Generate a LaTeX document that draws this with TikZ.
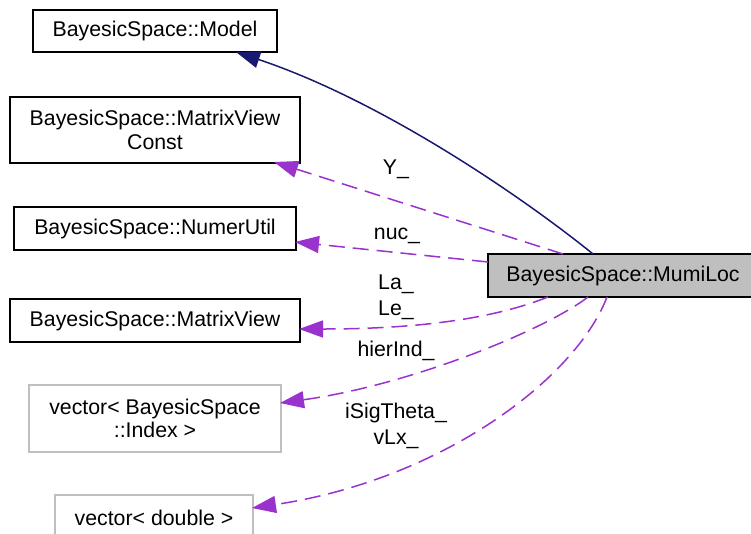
\documentclass[tikz,border=0pt]{standalone}
\usepackage{fontspec}
\setmainfont{Liberation Sans}
\usetikzlibrary{arrows.meta}
\definecolor{edgepurple}{HTML}{9A32CD}
\definecolor{edgenavy}{HTML}{191970}
\definecolor{boxgray}{HTML}{BFBFBF}
\tikzset{
  cls/.style={draw=black, line width=1.5pt, fill=white, inner sep=0pt, align=center,
    font=\fontsize{21.3}{23.5}\selectfont},
  extcls/.style={cls, draw=boxgray},
  focus/.style={cls, fill=boxgray},
  uses/.style={draw=edgepurple, line width=1.5pt, dash pattern=on 16pt off 8pt,
    -{Triangle[length=24pt,width=17pt,fill=edgepurple]}},
  inherits/.style={draw=edgenavy, line width=1.5pt,
    -{Triangle[length=24pt,width=17pt,fill=edgenavy]}},
  lbl/.style={align=center, inner sep=0pt, font=\fontsize{21.3}{26}\selectfont}
}
\begin{document}
\begin{tikzpicture}[x=1pt, y=-1pt]
\useasboundingbox (0,0) rectangle (751,533);

% classes
\node[cls, minimum width=244pt, minimum height=42pt] (model) at (155,31) {BayesicSpace::Model};
\node[cls, minimum width=290pt, minimum height=66pt] (mvc) at (155,130) {BayesicSpace::MatrixView\\Const};
\node[cls, minimum width=282pt, minimum height=43pt] (numer) at (155,228.5) {BayesicSpace::NumerUtil};
\node[cls, minimum width=290pt, minimum height=43pt] (mv) at (155,320.5) {BayesicSpace::MatrixView};
\node[extcls, minimum width=252pt, minimum height=67pt] (vidx) at (155,418.5) {vector< BayesicSpace\\::Index >};
\node[extcls, minimum width=198pt, minimum height=45pt] (vdbl) at (154,517.5) {vector< double >};
\node[focus, minimum width=270pt, minimum height=43pt] (mumi) at (623,275.5) {BayesicSpace::MumiLoc};

% anchor points on the class boxes
\coordinate (mumiA) at (593,254);
\coordinate (mumiY) at (563,254);
\coordinate (mumiN) at (488,262);
\coordinate (mumiL) at (548,297);
\coordinate (mumiH) at (588,297);
\coordinate (mumiS) at (607,297);
\coordinate (modelT) at (236,52);
\coordinate (mvcT) at (274,162);
\coordinate (numerT) at (295,242);
\coordinate (mvT) at (299,329);
\coordinate (vidxT) at (280,403);
\coordinate (vdblT) at (252,508);

% inheritance
\draw[inherits] (mumiA) .. controls (520,195) and (380,100) .. (modelT);

% members
\draw[uses] (mumiY) -- (mvcT);
\draw[uses] (mumiN) -- (numerT);
\draw[uses] (mumiL) .. controls (500,316) and (430,329) .. (mvT);
\draw[uses] (mumiH) .. controls (545,330) and (410,385) .. (vidxT);
\draw[uses] (mumiS) .. controls (575,380) and (440,480) .. (vdblT);

% member labels
\node[lbl] (lY) at (396,169) {Y\_};
\node[lbl] (lN) at (397,236) {nuc\_};
\node[lbl] (lL) at (396,297) {La\_\\Le\_};
\node[lbl] (lH) at (396,351) {hierInd\_};
\node[lbl] (lS) at (396,426) {iSigTheta\_\\vLx\_};
\end{tikzpicture}
\end{document}
